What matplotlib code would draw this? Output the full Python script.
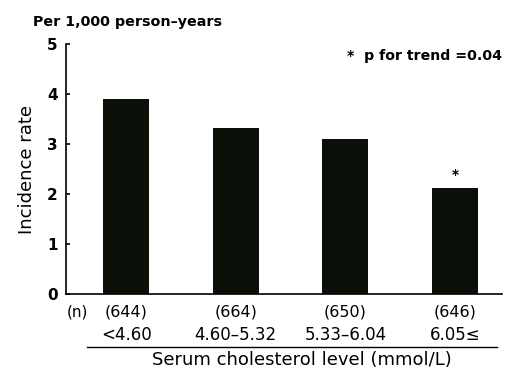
import matplotlib
matplotlib.use("Agg")
import matplotlib.pyplot as plt

# Incidence rate per 1,000 person-years by serum cholesterol quartile
groups = ["<4.60", "4.60\u20135.32", "5.33\u20136.04", "6.05\u2264"]
n_counts = ["(644)", "(664)", "(650)", "(646)"]
rates = [3.9, 3.32, 3.1, 2.12]
yticks = [0, 1, 2, 3, 4, 5]

plt.rcParams["font.family"] = ["DejaVu Sans"]

fig = plt.figure(figsize=(5.06, 3.70), dpi=100)
W, H = 506, 370
ax = fig.add_axes([66 / W, 1 - 294 / H, (502 - 66) / W, (294 - 44) / H])

x = list(range(len(rates)))
ax.bar(x, rates, width=0.42, color="#0a0f08", edgecolor="none")

ax.set_xlim(-0.55, 3.43)
ax.set_ylim(0, 5)
ax.set_yticks(yticks)
ax.set_yticklabels([str(t) for t in yticks], fontsize=11, fontweight="bold")
ax.set_xticks([])
ax.spines["top"].set_visible(False)
ax.spines["right"].set_visible(False)
for s in ("left", "bottom"):
    ax.spines[s].set_linewidth(1.2)
ax.tick_params(axis="y", direction="in", length=3, width=1.2, pad=6)

ax.set_ylabel("Incidence rate", fontsize=13, labelpad=8)

# significance marker above the last bar
ax.text(x[-1], rates[-1] + 0.27, "*", ha="center", va="center", fontsize=10, fontweight="bold")

fig.text(33 / W, 1 - 22 / H, "Per 1,000 person\u2013years", fontsize=10.3, fontweight="bold",
         ha="left", va="center")
fig.text(347 / W, 1 - 56 / H, "*  p for trend =0.04", fontsize=10.2, fontweight="bold",
         ha="left", va="center")

# sample sizes and group labels below the axis
fig.text(77 / W, 1 - 312 / H, "(n)", fontsize=11, ha="center", va="center")
for xi, nc, g in zip(x, n_counts, groups):
    px = ax.transData.transform((xi, 0))[0] / fig.dpi / fig.get_figwidth()
    fig.text(px, 1 - 312 / H, nc, fontsize=11.5, ha="center", va="center")
    fig.text(px, 1 - 335 / H, g, fontsize=12, ha="center", va="center")

fig.add_artist(plt.Line2D([87 / W, 497 / W], [1 - 347 / H, 1 - 347 / H],
                          color="black", linewidth=1.0))
fig.text(302 / W, 1 - 360 / H, "Serum cholesterol level (mmol/L)", fontsize=13,
         ha="center", va="center")

fig.savefig("out.png", dpi=100)
